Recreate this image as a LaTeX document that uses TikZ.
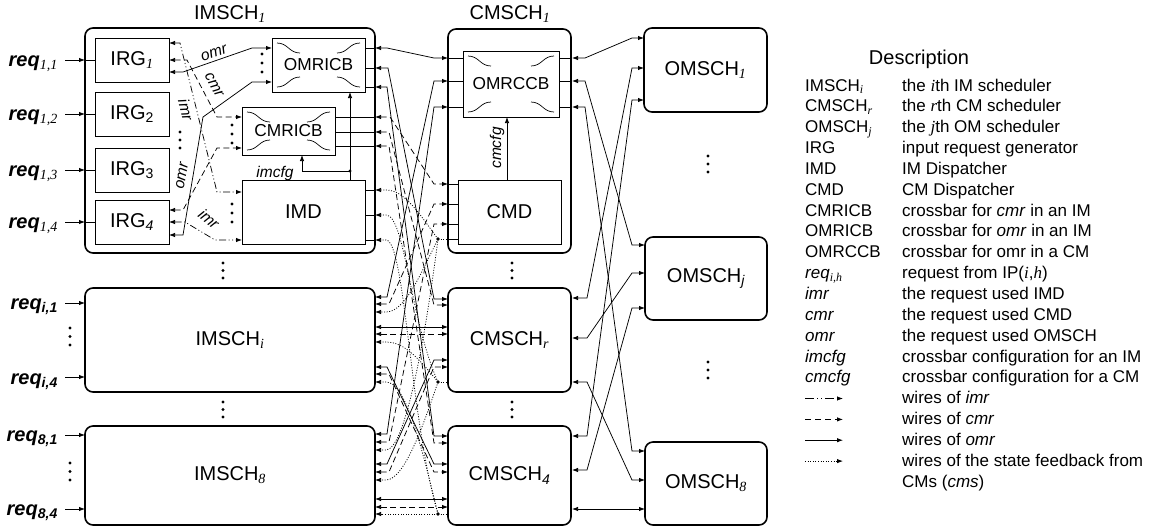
\documentclass[tikz,border=0pt]{standalone}
\usepackage{fontspec}
\usepackage{amsmath}
\setmainfont{Liberation Sans}
\newfontfamily\tmsfont{Liberation Serif}
\usetikzlibrary{arrows.meta}
\newcommand{\subT}[1]{$_{\text{\tmsfont\mdseries\itshape #1}}$}
\newcommand{\subI}[1]{$_{\text{\itshape #1}}$}
\newcommand{\subU}[1]{$_{\text{#1}}$}
\newcommand{\threedots}[3]{\foreach \k in {0,1,2}{\fill ({#1},{#2+\k*#3}) circle[radius=1.7pt];}}
\newcommand{\xbar}[4]{%
  \draw[line width=0.7pt] ({#1+5},{#2+5}) .. controls ({#1+16},{#2+5}) and ({#1+17},{#2+15}) .. ({#1+28},{#2+15});
  \draw[line width=0.7pt] ({#3-5},{#2+5}) .. controls ({#3-16},{#2+5}) and ({#3-17},{#2+15}) .. ({#3-28},{#2+15});
  \draw[line width=0.7pt] ({#1+5},{#4-5}) .. controls ({#1+16},{#4-5}) and ({#1+17},{#4-15}) .. ({#1+28},{#4-15});
  \draw[line width=0.7pt] ({#3-5},{#4-5}) .. controls ({#3-16},{#4-5}) and ({#3-17},{#4-15}) .. ({#3-28},{#4-15});
}
\newcommand{\legrow}[4]{\node[leg,anchor=base west] (#1a) at (805,#2) {#3}; \node[leg,anchor=base west] (#1b) at (902,#2) {#4};}
\tikzset{
  lbl/.style={font=\fontsize{20}{24}\selectfont, inner sep=0},
  outerbox/.style={draw, line width=1.6pt, rounded corners=8pt, inner sep=0, outer sep=0, font=\fontsize{20}{24}\selectfont},
  outerline/.style={draw, line width=1.6pt, rounded corners=8pt},
  innerbox/.style={draw, line width=0.9pt, inner sep=0, outer sep=0, font=\fontsize{20}{24}\selectfont},
  xbox/.style={innerbox, font=\fontsize{17.3}{20}\selectfont},
  reqlbl/.style={font=\fontsize{20}{24}\selectfont\bfseries\itshape, inner sep=0, anchor=base east},
  sl/.style={font=\fontsize{15.5}{18}\selectfont\itshape, inner sep=0},
  leg/.style={font=\fontsize{17}{20}\selectfont, inner sep=0},
  w/.style={line width=0.75pt},
  omrw/.style={w, <->},
  cmrw/.style={w, dash pattern=on 6pt off 3.5pt, <->},
  imrw/.style={w, dash pattern=on 7pt off 2.5pt on 1pt off 2.5pt on 1pt off 2.5pt, <->},
  cmsw/.style={w, dash pattern=on 1pt off 1.6pt, ->},
  cmsl/.style={w, dash pattern=on 1pt off 1.6pt},
}
\begin{document}
\begin{tikzpicture}[x=1pt,y=-1pt, >={Latex[length=6pt,width=4.4pt]}]
\useasboundingbox (0,0) rectangle (1158,531);
% titles
\node[lbl] (t1) at (230,14) {IMSCH\subT{1}};
\node[lbl] (t2) at (510,14) {CMSCH\subT{1}};
% outer boxes
\draw[outerline] (85,28) rectangle (375,253);
\draw[outerline] (448,29) rectangle (571,253);
\node[outerbox, minimum width=290, minimum height=104] (imsi) at (230,340) {IMSCH\subT{i}};
\node[outerbox, minimum width=290, minimum height=99] (ims8) at (230,475.5) {IMSCH\subT{8}};
\node[outerbox, minimum width=123, minimum height=104] (cmsr) at (509.5,340) {CMSCH\subT{r}};
\node[outerbox, minimum width=123, minimum height=99] (cms4) at (509.5,475.5) {CMSCH\subI{4}};
\node[outerbox, minimum width=123, minimum height=84] (oms1) at (705.5,70) {OMSCH\subT{1}};
\node[outerbox, minimum width=122, minimum height=83] (omsj) at (706,278.5) {OMSCH\subI{j}};
\node[outerbox, minimum width=122, minimum height=83] (oms8) at (706,483.5) {OMSCH\subT{8}};
% inner boxes of IMSCH1
\node[innerbox, minimum width=74, minimum height=44] (irg1) at (132,60) {IRG\subT{1}};
\node[innerbox, minimum width=74, minimum height=44] (irg2) at (132,114) {IRG\subU{2}};
\node[innerbox, minimum width=74, minimum height=44] (irg3) at (132,170) {IRG\subU{3}};
\node[innerbox, minimum width=74, minimum height=44] (irg4) at (132,222) {IRG\subI{4}};
\node[xbox, minimum width=93, minimum height=54] (omricb) at (318.5,65) {OMRICB};
\node[xbox, minimum width=93, minimum height=48] (cmricb) at (288.5,131) {CMRICB};
\node[innerbox, minimum width=123, minimum height=64] (imd) at (303.5,212) {IMD};
\xbar{272}{38}{365}{92}
\xbar{242}{107}{335}{155}
% inner boxes of CMSCH1
\node[xbox, minimum width=96, minimum height=66] (omrccb) at (511,84) {OMRCCB};
\node[innerbox, minimum width=103, minimum height=64] (cmd) at (509.5,212) {CMD};
\xbar{463}{51}{559}{117}
% req inputs
\node[reqlbl] (r11) at (58,66) {req\subT{1,1}};
\node[reqlbl] (r12) at (58,120) {req\subT{1,2}};
\node[reqlbl] (r13) at (58,176) {req\subT{1,3}};
\node[reqlbl] (r14) at (58,228) {req\subT{1,4}};
\node[reqlbl] (ri1) at (58,309) {req\subI{i,1}};
\node[reqlbl] (ri4) at (58,384) {req\subI{i,4}};
\node[reqlbl] (r81) at (58,441) {req\subI{8,1}};
\node[reqlbl] (r84) at (58,515) {req\subI{8,4}};
\foreach \yy in {60,114,170,222}{\draw[w,->] (65,\yy) -- (85,\yy); \draw[w] (85,\yy) -- (95,\yy);}
\foreach \yy in {303,377,435,509}{\draw[w,->] (65,\yy) -- (85,\yy);}
% dots
\threedots{180}{132}{8}
\threedots{262}{54}{9}
\threedots{232}{125}{9}
\threedots{232}{204}{9}
\threedots{223}{263}{7.5}
\threedots{223}{402}{7.5}
\threedots{512}{263}{7.5}
\threedots{512}{402}{7.5}
\threedots{708}{156}{8}
\threedots{708}{362}{8}
\threedots{70}{328}{8.5}
\threedots{70}{463}{8.5}
% IRG wires
\draw[omrw] (169,72) -- (183,72) -- (252,48) -- (272,48);
\draw[cmrw] (169,60) -- (187,60) -- (217,117) -- (242,117);
\draw[imrw] (169,43) -- (180,43) -- (217,192) -- (242,192);
\draw[cmrw] (169,210) -- (183,210) -- (217,148) -- (242,148);
\draw[imrw] (169,222) -- (185,222) -- (215,240) -- (242,240);
\draw[omrw] (169,235) -- (183,235) -- (203,117) -- (252,82) -- (272,82);
\node[sl, rotate=18] (lo1) at (214,53) {omr};
\node[sl, rotate=-62] (lc1) at (214,85) {cmr};
\node[sl, rotate=-76] (li1) at (186,110) {imr};
\node[sl, rotate=80] (lo4) at (182,176) {omr};
\node[sl, rotate=-40] (li4) at (209,219) {imr};
% IMSCH1 internal stubs
\foreach \yy in {48,68,87,190,215,240}{\draw[w] (365,\yy) -- (375,\yy);}
\foreach \yy in {117,132,146}{\draw[w] (335,\yy) -- (375,\yy);}
% imcfg
\draw[w,->] (350,180) -- (350,92);
\fill (350,171) circle[radius=1.7pt];
\draw[w,->] (350,171) -- (302,171) -- (302,155);
\node[sl] (limcfg) at (275,173) {imcfg};
% CMSCH1 internal stubs
\foreach \yy in {58,81,107}{\draw[w] (448,\yy) -- (463,\yy); \draw[w] (559,\yy) -- (571,\yy);}
\foreach \yy in {184,204,224,239}{\draw[w] (448,\yy) -- (458,\yy);}
\draw[w,->] (507,180) -- (507,117);
\node[sl, rotate=90] (lcmcfg) at (497,148) {cmcfg};
% IM-CM omr wires
\draw[omrw] (375,48) -- (387,48) -- (434,58) -- (448,58);
\draw[omrw] (375,68) -- (388,68) -- (434,299) -- (448,299);
\draw[omrw] (375,87) -- (387,87) -- (434,436) -- (448,436);
\draw[omrw] (375,297) -- (387,297) -- (434,81) -- (448,81);
\draw[omrw] (375,327) -- (448,327);
\draw[omrw] (375,367) -- (387,367) -- (434,464) -- (448,464);
\draw[omrw] (375,434) -- (387,434) -- (434,107) -- (448,107);
\draw[omrw] (375,464) -- (387,464) -- (434,360) -- (448,360);
\draw[omrw] (375,499) -- (448,499);
% IM-CM cmr wires
\draw[cmrw] (375,117) -- (390,117) -- (434,184) -- (448,184);
\draw[cmrw] (375,132) -- (389,132) -- (434,305) -- (448,305);
\draw[cmrw] (375,146) -- (389,146) -- (434,443) -- (448,443);
\draw[cmrw] (375,304) -- (389,304) -- (434,204) -- (448,204);
\draw[cmrw] (375,334) -- (448,334);
\draw[cmrw] (375,374) -- (389,374) -- (434,472) -- (448,472);
\draw[cmrw] (375,442) -- (389,442) -- (434,224) -- (448,224);
\draw[cmrw] (375,472) -- (389,472) -- (434,367) -- (448,367);
\draw[cmrw] (375,507) -- (448,507);
% cms feedback
\coordinate (d1) at (438,239);
\coordinate (dr) at (438,382);
\coordinate (d4) at (438,514);
\foreach \c/\yy in {d1/239,dr/382,d4/514}{\fill (\c) circle[radius=1.8pt]; \draw[cmsl] (\c) -- (448,\yy);}
\draw[cmsw] (d1) .. controls (420,215) and (405,190) .. (386,190) -- (375,190);
\draw[cmsw] (d1) .. controls (420,275) and (405,312) .. (386,312) -- (375,312);
\draw[cmsw] (d1) .. controls (425,340) and (405,450) .. (386,450) -- (375,450);
\draw[cmsw] (dr) .. controls (410,320) and (405,215) .. (386,215) -- (375,215);
\draw[cmsw] (dr) .. controls (420,360) and (405,342) .. (386,342) -- (375,342);
\draw[cmsw] (dr) .. controls (425,420) and (405,480) .. (386,480) -- (375,480);
\draw[cmsw] (d4) .. controls (410,420) and (405,240) .. (386,240) -- (375,240);
\draw[cmsw] (d4) .. controls (420,440) and (405,382) .. (386,382) -- (375,382);
\draw[cmsw] (d4) -- (375,514);
% CM-OM wires
\draw[omrw] (572,58) -- (585,58) -- (632,38) -- (644,38);
\draw[omrw] (572,81) -- (585,81) -- (632,245) -- (645,245);
\draw[omrw] (572,107) -- (585,107) -- (632,451) -- (645,451);
\draw[omrw] (572,298) -- (587,298) -- (632,68) -- (644,68);
\draw[omrw] (572,338) -- (587,338) -- (632,273) -- (645,273);
\draw[omrw] (572,382) -- (587,382) -- (632,480) -- (645,480);
\draw[omrw] (572,436) -- (587,436) -- (632,100) -- (644,100);
\draw[omrw] (572,470) -- (587,470) -- (632,308) -- (645,308);
\draw[omrw] (572,509) -- (645,509);
% legend
\node[lbl, anchor=base] (desc) at (919,64) {Description};
\legrow{l0}{91}{IMSCH\subT{i}}{the {\tmsfont\itshape i}th IM scheduler}
\legrow{l1}{111.85}{CMSCH\subT{r}}{the {\tmsfont\itshape r}th CM scheduler}
\legrow{l2}{132.7}{OMSCH\subT{j}}{the {\tmsfont\itshape j}th OM scheduler}
\legrow{l3}{153.55}{IRG}{input request generator}
\legrow{l4}{174.4}{IMD}{IM Dispatcher}
\legrow{l5}{195.25}{CMD}{CM Dispatcher}
\legrow{l6}{216.1}{CMRICB}{crossbar for \textit{cmr} in an IM}
\legrow{l7}{236.95}{OMRICB}{crossbar for \textit{omr} in an IM}
\legrow{l8}{257.8}{OMRCCB}{crossbar for omr in a CM}
\legrow{l9}{278.65}{\textit{req}\subT{i,h}}{request from IP({\tmsfont\itshape i},{\tmsfont\itshape h})}
\legrow{l10}{299.5}{\textit{imr}}{the request used IMD}
\legrow{l11}{320.35}{\textit{cmr}}{the request used CMD}
\legrow{l12}{341.2}{\textit{omr}}{the request used OMSCH}
\legrow{l13}{362.05}{\textit{imcfg}}{crossbar configuration for an IM}
\legrow{l14}{382.9}{\textit{cmcfg}}{crossbar configuration for a CM}
\node[leg,anchor=base west] (l15b) at (902,403.75) {wires of \textit{imr}};
\node[leg,anchor=base west] (l16b) at (902,424.6) {wires of \textit{cmr}};
\node[leg,anchor=base west] (l17b) at (902,445.45) {wires of \textit{omr}};
\node[leg,anchor=base west] (l18b) at (902,466.3) {wires of the state feedback from};
\node[leg,anchor=base west] (l19b) at (902,487.15) {CMs (\textit{cms})};
\coordinate (s15a) at (805,398.5); \coordinate (s15b) at (843,398.5);
\coordinate (s16a) at (805,419.4); \coordinate (s16b) at (843,419.4);
\coordinate (s17a) at (805,440.2); \coordinate (s17b) at (843,440.2);
\coordinate (s18a) at (805,461.1); \coordinate (s18b) at (843,461.1);
\draw[w, dash pattern=on 9pt off 3pt on 1pt off 3pt on 1pt off 3pt, ->] (s15a) -- (s15b);
\draw[w, dash pattern=on 6pt off 4pt, ->] (s16a) -- (s16b);
\draw[w, ->] (s17a) -- (s17b);
\draw[cmsw] (s18a) -- (s18b);
\end{tikzpicture}
\end{document}
